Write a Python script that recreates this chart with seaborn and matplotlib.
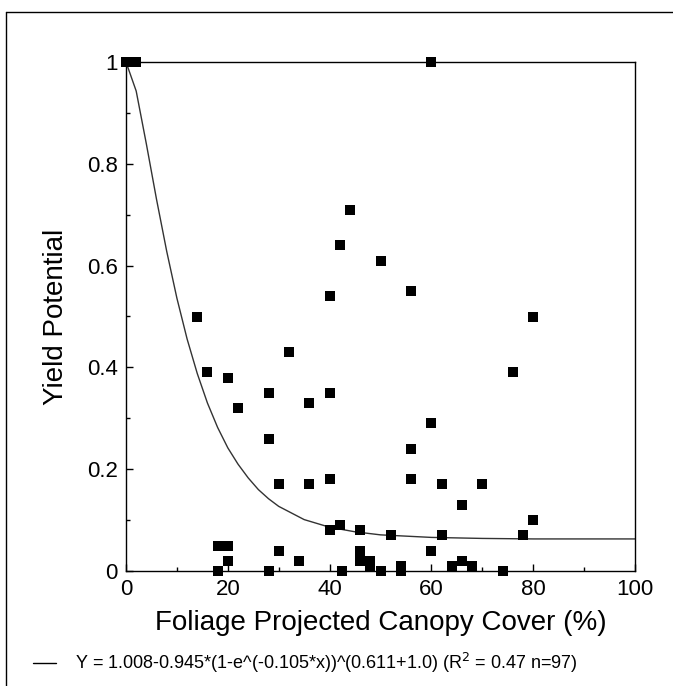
import matplotlib
matplotlib.use("Agg")
import matplotlib.pyplot as plt
from matplotlib.lines import Line2D
from matplotlib.ticker import MultipleLocator, FixedLocator, FixedFormatter
import seaborn as sns
import pandas as pd

# ---- data ----
cover = [0, 2, 60, 44, 42, 50, 40, 56, 14, 80, 32, 16, 76, 20, 28, 40, 36, 22, 60, 28,
         56, 40, 56, 30, 36, 62, 70, 66, 80, 42, 40, 46, 52, 62, 78, 18, 20, 30, 46, 60,
         20, 34, 46, 48, 66, 48, 54, 64, 68, 18, 28, 42.5, 50, 54, 74]
yield_pot = [1.0, 1.0, 1.0, 0.71, 0.64, 0.61, 0.54, 0.55, 0.50, 0.50, 0.43, 0.39, 0.39, 0.38,
             0.35, 0.35, 0.33, 0.32, 0.29, 0.26, 0.24, 0.18, 0.18, 0.17, 0.17, 0.17, 0.17,
             0.13, 0.10, 0.09, 0.08, 0.08, 0.07, 0.07, 0.07, 0.05, 0.05, 0.04, 0.04, 0.04,
             0.02, 0.02, 0.02, 0.02, 0.02, 0.01, 0.01, 0.01, 0.01, 0.0, 0.0, 0.0, 0.0, 0.0, 0.0]

fit_x = [0, 2, 4, 6, 8, 10, 12, 14, 16, 18, 20, 22, 24, 26, 28, 30, 35, 40, 45, 50, 60, 70, 80, 100]
fit_y = [1.0, 0.943, 0.839, 0.730, 0.628, 0.536, 0.456, 0.388, 0.330, 0.282, 0.242, 0.210,
         0.183, 0.160, 0.142, 0.127, 0.101, 0.086, 0.077, 0.071, 0.066, 0.064, 0.063, 0.063]

x_ticks = [0, 20, 40, 60, 80, 100]
x_tick_labels = ["0", "20", "40", "60", "80", "100"]
y_ticks = [0, 0.2, 0.4, 0.6, 0.8, 1.0]
y_tick_labels = ["0", "0.2", "0.4", "0.6", "0.8", "1"]

x_label = "Foliage Projected Canopy Cover (%)"
y_label = "Yield Potential"
legend_text = "Y = 1.008-0.945*(1-e^(-0.105*x))^(0.611+1.0) (R$^2$ = 0.47 n=97)"

# ---- plotting ----
sns.set_style("white")
plt.rcParams['font.family'] = ['Liberation Sans', 'DejaVu Sans']
plt.rcParams['text.color'] = 'black'
plt.rcParams['axes.labelcolor'] = 'black'
plt.rcParams['xtick.color'] = 'black'
plt.rcParams['ytick.color'] = 'black'

fig = plt.figure(figsize=(6.73, 6.86), dpi=100)
ax = fig.add_axes([126 / 673, 1 - 571 / 686, (635 - 126) / 673, (571 - 62) / 686])

pts = pd.DataFrame({"x": cover, "y": yield_pot})
fit = pd.DataFrame({"x": fit_x, "y": fit_y})

sns.lineplot(data=fit, x="x", y="y", ax=ax, color="#333333", linewidth=1.0,
             sort=False, estimator=None, zorder=2)
sns.scatterplot(data=pts, x="x", y="y", ax=ax, marker="s", color="black", s=45,
                linewidth=0, clip_on=False, zorder=3)

ax.set_xlim(0, 100)
ax.set_ylim(0, 1)
ax.xaxis.set_major_locator(FixedLocator(x_ticks))
ax.xaxis.set_major_formatter(FixedFormatter(x_tick_labels))
ax.yaxis.set_major_locator(FixedLocator(y_ticks))
ax.yaxis.set_major_formatter(FixedFormatter(y_tick_labels))
ax.xaxis.set_minor_locator(MultipleLocator(10))
ax.yaxis.set_minor_locator(MultipleLocator(0.1))

for sp in ax.spines.values():
    sp.set_visible(True)
    sp.set_color("black")
    sp.set_linewidth(1.0)

ax.tick_params(which="both", direction="in", color="black", width=1.0,
               bottom=True, left=True, top=False, right=False)
ax.tick_params(which="major", length=5, labelsize=16, pad=6)
ax.tick_params(which="minor", length=3)

ax.set_xlabel(x_label, fontsize=20, labelpad=7)
ax.set_ylabel(y_label, fontsize=20, labelpad=13)

# legend line + text
fig.add_artist(Line2D([33 / 673, 56 / 673], [1 - 663 / 686, 1 - 663 / 686],
                      color="black", linewidth=1.0))
fig.text(75 / 673, 1 - 663 / 686, legend_text, fontsize=13, va="center", ha="left")

# outer frame (top and left)
fig.add_artist(Line2D([6 / 673, 1.0], [1 - 12 / 686, 1 - 12 / 686], color="black", linewidth=1.0))
fig.add_artist(Line2D([6 / 673, 6 / 673], [1 - 12 / 686, 0.0], color="black", linewidth=1.0))

fig.savefig("out.png", dpi=100)
